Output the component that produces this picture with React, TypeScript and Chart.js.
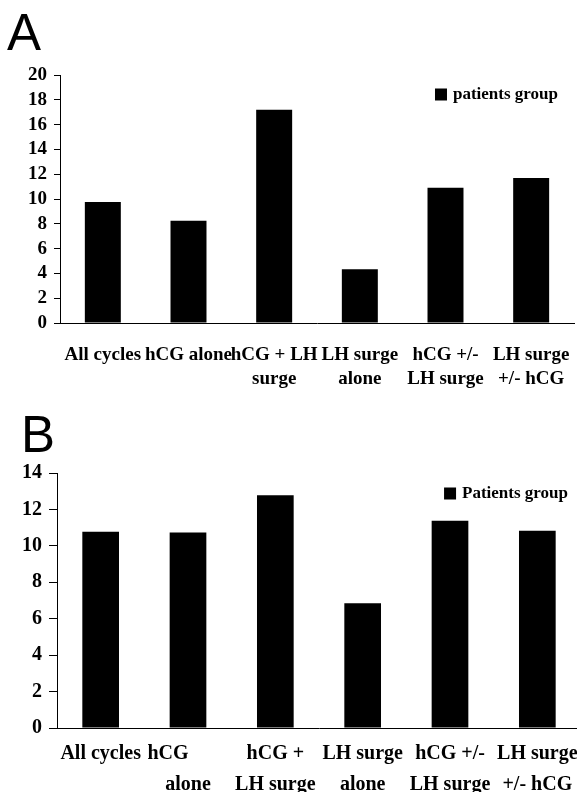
import React, { useEffect, useRef } from "react";
import { Chart, registerables } from "chart.js";

Chart.register(...registerables);

// ---- Data ----
const categoriesA: (string | string[])[] = [
  "All cycles",
  "hCG alone",
  ["hCG + LH", "surge"],
  ["LH surge", "alone"],
  ["hCG +/-", "LH surge"],
  ["LH surge", "+/- hCG"],
];
const valuesA: number[] = [9.75, 8.25, 17.2, 4.33, 10.9, 11.7];
const seriesA = "patients group";
const yMaxA = 20;
const yStepA = 2;

const categoriesB: (string | string[])[] = [
  "All cycles",
  ["hCG        ", "alone"],
  ["hCG +", "LH surge"],
  ["LH surge", "alone"],
  ["hCG +/-", "LH surge"],
  ["LH surge", "+/- hCG"],
];
const valuesB: number[] = [10.78, 10.74, 12.78, 6.85, 11.38, 10.83];
const seriesB = "Patients group";
const yMaxB = 14;
const yStepB = 2;

const SERIF = "'Liberation Serif', 'Times New Roman', serif";

type Cfg = {
  top: number;
  w: number;
  h: number;
  padTop: number;
  padRight: number;
  yWidth: number;
  xHeight: number;
  xPad: number;
  xSize: number;
  xLine: number;
  ySize: number;
  yPad: number;
  tickLen: number;
  legendSize: number;
  legendRightGap: number;
  legendCenterDy: number;
  barPct: number;
};

const cfgA: Cfg = {
  top: 0, w: 577, h: 400, padTop: 75, padRight: 3, yWidth: 60, xHeight: 77,
  xPad: 20, xSize: 19, xLine: 1.27, ySize: 19, yPad: 7, tickLen: 6,
  legendSize: 17, legendRightGap: 16, legendCenterDy: 20, barPct: 0.42,
};
const cfgB: Cfg = {
  top: 400, w: 590, h: 392, padTop: 73, padRight: 9, yWidth: 57, xHeight: 64,
  xPad: 11, xSize: 20, xLine: 1.52, ySize: 20, yPad: 7, tickLen: 8,
  legendSize: 17, legendRightGap: 13, legendCenterDy: 21, barPct: 0.42,
};

type PanelProps = {
  labels: (string | string[])[];
  values: number[];
  series: string;
  yMax: number;
  yStep: number;
  cfg: Cfg;
};

function BarPanel({ labels, values, series, yMax, yStep, cfg }: PanelProps) {
  const ref = useRef<HTMLCanvasElement>(null);
  useEffect(() => {
    if (!ref.current) return;
    const legendPlugin = {
      id: "cornerLegend",
      afterDraw(chart: any) {
        const { ctx, chartArea } = chart;
        const ds = chart.data.datasets[0];
        ctx.save();
        ctx.font = `bold ${cfg.legendSize}px ${SERIF}`;
        ctx.textBaseline = "middle";
        ctx.textAlign = "left";
        const tw = ctx.measureText(ds.label).width;
        const textRight = chartArea.right - cfg.legendRightGap;
        const textX = textRight - tw;
        const cy = chartArea.top + cfg.legendCenterDy;
        ctx.fillStyle = ds.backgroundColor;
        ctx.fillRect(textX - 6 - 12, cy - 6.5, 12, 12);
        ctx.fillStyle = "#000";
        ctx.fillText(ds.label, textX, cy);
        ctx.restore();
      },
    };
    const chart = new Chart(ref.current, {
      type: "bar",
      data: {
        labels,
        datasets: [
          {
            label: series,
            data: values,
            backgroundColor: "#000",
            borderColor: "#000",
            borderWidth: 0,
            barPercentage: cfg.barPct,
            categoryPercentage: 1,
          },
        ],
      },
      options: {
        responsive: false,
        animation: false,
        devicePixelRatio: 1,
        layout: { padding: { top: cfg.padTop, right: cfg.padRight, left: 0, bottom: 0 } },
        plugins: {
          legend: { display: false },
          tooltip: { enabled: false },
        },
        scales: {
          x: {
            grid: { display: true, drawOnChartArea: false, drawTicks: false },
            border: { display: true, color: "#000", width: 1 },
            ticks: {
              autoSkip: false,
              maxRotation: 0,
              minRotation: 0,
              padding: cfg.xPad,
              color: "#000",
              font: { family: SERIF, weight: "bold", size: cfg.xSize, lineHeight: cfg.xLine },
            },
            afterFit: (s: any) => {
              s.height = cfg.xHeight;
              s.paddingLeft = 0;
              s.paddingRight = 0;
            },
          },
          y: {
            min: 0,
            max: yMax,
            ticks: {
              stepSize: yStep,
              autoSkip: false,
              padding: cfg.yPad,
              color: "#000",
              font: { family: SERIF, weight: "bold", size: cfg.ySize, lineHeight: 1 },
            },
            grid: {
              display: true,
              drawOnChartArea: false,
              drawTicks: true,
              tickLength: cfg.tickLen,
              color: "#000",
            },
            border: { display: true, color: "#000", width: 1 },
            afterFit: (s: any) => {
              s.width = cfg.yWidth;
            },
          },
        },
      },
      plugins: [legendPlugin],
    });
    return () => chart.destroy();
  }, []);
  return (
    <canvas
      ref={ref}
      width={cfg.w}
      height={cfg.h}
      style={{ position: "absolute", left: 0, top: cfg.top, width: cfg.w, height: cfg.h }}
    />
  );
}

const letterStyle: React.CSSProperties = {
  position: "absolute",
  fontFamily: "'Liberation Sans', Arial, sans-serif",
  fontSize: 51,
  lineHeight: 1,
  color: "#000",
};

export default function App() {
  return (
    <div style={{ position: "relative", width: 577, height: 792, overflow: "hidden", background: "#fff" }}>
      <style>{`html,body{margin:0;padding:0;background:#fff;}`}</style>
      <BarPanel labels={categoriesA} values={valuesA} series={seriesA} yMax={yMaxA} yStep={yStepA} cfg={cfgA} />
      <BarPanel labels={categoriesB} values={valuesB} series={seriesB} yMax={yMaxB} yStep={yStepB} cfg={cfgB} />
      <div style={{ ...letterStyle, left: 7, top: 7 }}>A</div>
      <div style={{ ...letterStyle, left: 21, top: 409 }}>B</div>
    </div>
  );
}
